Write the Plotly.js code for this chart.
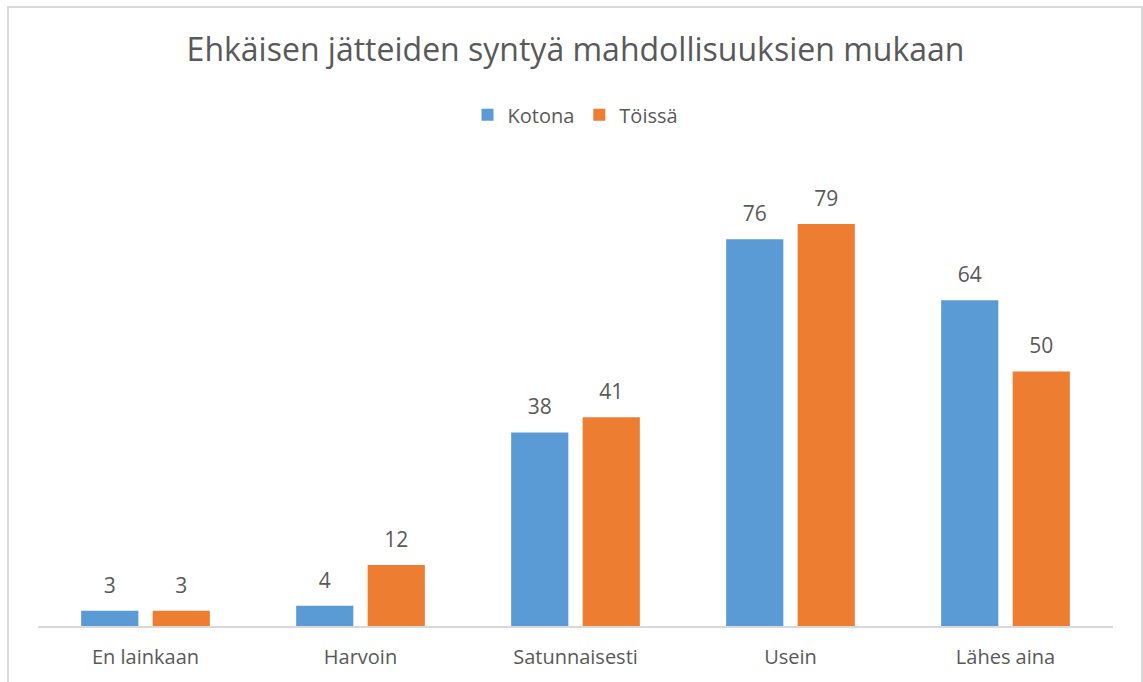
<!DOCTYPE html>
<html>
<head>
<meta charset="utf-8">
<script src="https://cdn.plot.ly/plotly-3.0.1.min.js"></script>
<style>
html,body{margin:0;padding:0;background:#fff;}
#wrap{position:relative;width:1143px;height:682px;overflow:hidden;}
#chart{width:1143px;height:682px;}
#frame{position:absolute;left:7px;top:6px;width:1132px;height:700px;border:2px solid #d9d9d9;pointer-events:none;}
</style>
</head>
<body>
<div id="wrap"><div id="chart"></div><div id="frame"></div></div>
<script>
const categories = ["En lainkaan", "Harvoin", "Satunnaisesti", "Usein", "Lähes aina"];
const kotona = [3, 4, 38, 76, 64];
const toissa = [3, 12, 41, 79, 50];
const seriesNames = ["Kotona", "Töissä"];
const titleText = "Ehkäisen jätteiden syntyä mahdollisuuksien mukaan";

const FONT = "Open Sans, Liberation Sans, sans-serif";
const TXT = "#595959";
const COLORS = ["#5B9BD5", "#ED7D31"];
const SERIES = [kotona, toissa];

const traces = [];
SERIES.forEach((vals, i) => {
  traces.push({type: "bar", name: seriesNames[i], x: categories, y: vals,
    offsetgroup: String(i + 1), marker: {color: COLORS[i]}, hoverinfo: "x+y"});
});
SERIES.forEach((vals, i) => {
  traces.push({type: "scatter", mode: "markers+text", x: categories, y: vals,
    offsetgroup: String(i + 1), showlegend: false, hoverinfo: "skip",
    marker: {size: 19, opacity: 0, color: COLORS[i]},
    text: vals.map(String), textposition: "top center", cliponaxis: false,
    textfont: {family: FONT, size: 21, color: TXT}});
});

const layout = {
  width: 1143, height: 682,
  margin: {l: 38, r: 30, t: 168, b: 56},
  paper_bgcolor: "#ffffff", plot_bgcolor: "#ffffff",
  font: {family: FONT, color: TXT},
  title: {text: titleText, font: {family: FONT, size: 32, color: TXT},
          x: 0.5, xref: "paper", xanchor: "center", y: 1 - 50/682, yanchor: "middle"},
  barmode: "group", bargap: 0.335, bargroupgap: 0.2,
  scattermode: "group", scattergap: 0.335,
  showlegend: true,
  legend: {orientation: "h", x: 0.5, xanchor: "center", y: 1.116, yanchor: "middle",
           font: {family: FONT, size: 20, color: TXT}, itemwidth: 30, traceorder: "normal"},
  xaxis: {showline: true, linecolor: "#d9d9d9", linewidth: 2, ticks: "",
          tickfont: {family: FONT, size: 20, color: TXT}, ticklabelstandoff: 12,
          showgrid: false, zeroline: false, fixedrange: true},
  yaxis: {range: [0, 90], visible: false, showgrid: false, zeroline: false, fixedrange: true}
};

Plotly.newPlot("chart", traces, layout, {displayModeBar: false, staticPlot: true});
</script>
</body>
</html>
